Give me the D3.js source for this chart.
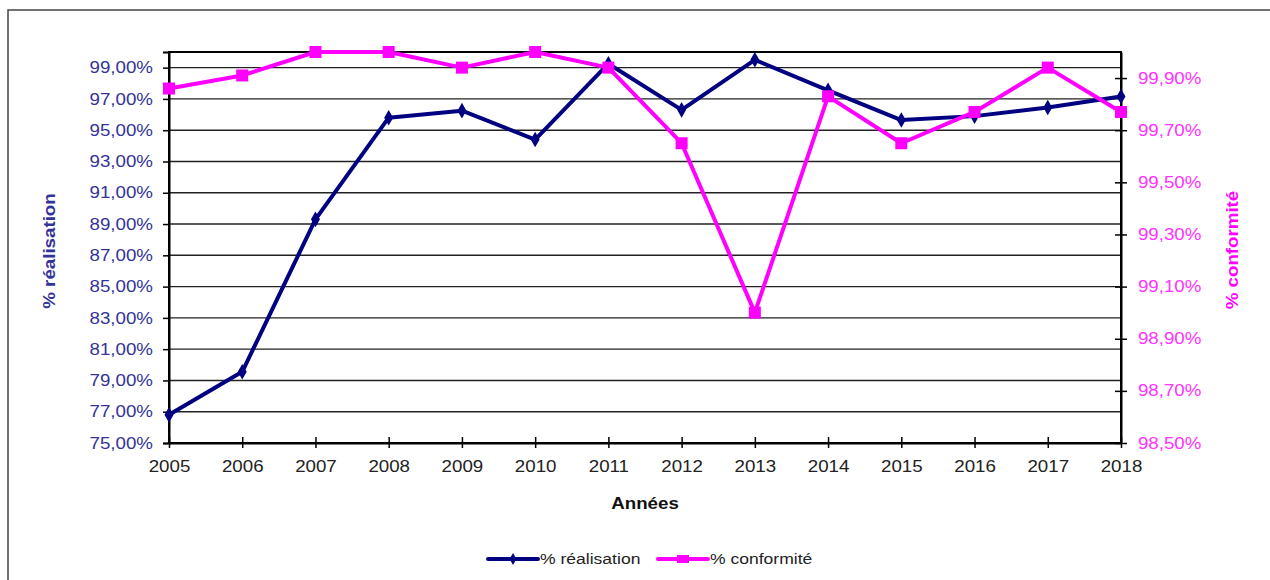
<!DOCTYPE html>
<html>
<head>
<meta charset="utf-8">
<script src="https://cdn.jsdelivr.net/npm/d3@7"></script>
<style>
  body { margin: 0; background: #fff; }
  svg { display: block; font-family: "Liberation Sans", Arial, sans-serif; }
</style>
</head>
<body>
<svg id="chart" width="1270" height="580"></svg>
<script>
var years = [2005, 2006, 2007, 2008, 2009, 2010, 2011, 2012, 2013, 2014, 2015, 2016, 2017, 2018];
var realisation = [76.8, 79.55, 89.3, 95.8, 96.25, 94.4, 99.25, 96.3, 99.5, 97.55, 95.65, 95.9, 96.45, 97.15];
var conformite = [99.86, 99.91, 100, 100, 99.94, 100, 99.94, 99.65, 99.0, 99.83, 99.65, 99.77, 99.94, 99.77];
var leftTicks = [75, 77, 79, 81, 83, 85, 87, 89, 91, 93, 95, 97, 99];
var rightTicks = [98.5, 98.7, 98.9, 99.1, 99.3, 99.5, 99.7, 99.9];
var seriesNames = ["% réalisation", "% conformité"];

var svg = d3.select("#chart");
var margin = { top: 52, right: 149, bottom: 137, left: 169 };
var width = 1270 - margin.left - margin.right,
    height = 580 - margin.top - margin.bottom;
var stretch = "scale(1.17,1)";
var blue = "#000080", pink = "#ff00ff";

// outer frame
svg.append("rect")
  .attr("x", 8).attr("y", 10)
  .attr("width", 1300).attr("height", 600)
  .attr("fill", "none").attr("stroke", "#444").attr("stroke-width", 1.5);

var g = svg.append("g")
  .attr("transform", "translate(" + margin.left + "," + margin.top + ")");

var x = d3.scaleLinear().domain([2005, 2018]).range([0, width]);
var yL = d3.scaleLinear().domain([75, 100]).range([height, 0]);
var yR = d3.scaleLinear().domain([98.5, 100]).range([height, 0]);

var fmt = function(v) { return v.toFixed(2).replace(".", ",") + "%"; };

// grid
g.append("g")
  .selectAll("line")
  .data(leftTicks.slice(1))
  .join("line")
  .attr("x1", 0).attr("x2", width)
  .attr("y1", function(d) { return yL(d); })
  .attr("y2", function(d) { return yL(d); })
  .attr("stroke", "#222").attr("stroke-width", 1.4);

g.append("rect")
  .attr("width", width).attr("height", height)
  .attr("fill", "none").attr("stroke", "#000").attr("stroke-width", 2);

// left axis
var ax = g.append("g")
  .call(d3.axisLeft(yL).tickValues(leftTicks).tickFormat(fmt).tickSize(6).tickPadding(0));
ax.select(".domain").attr("stroke", "#000").attr("stroke-width", 2);
ax.selectAll(".tick line").attr("stroke", "#000").attr("stroke-width", 1.5);
ax.selectAll(".tick text")
  .attr("x", -13.7)
  .attr("transform", stretch)
  .attr("fill", "#333399")
  .style("font-size", "16px");

// right axis
var ar = g.append("g")
  .attr("transform", "translate(" + width + ",0)")
  .call(d3.axisRight(yR).tickValues(rightTicks).tickFormat(fmt).tickSizeInner(6).tickSizeOuter(0));
ar.select(".domain").attr("stroke", "#000").attr("stroke-width", 2);
ar.selectAll(".tick line").attr("x1", -6).attr("stroke", "#000").attr("stroke-width", 1.5);
ar.selectAll(".tick text")
  .attr("x", 14.5)
  .attr("transform", stretch)
  .attr("fill", "#ff33ff")
  .style("font-size", "16px");

// bottom axis
var ab = g.append("g")
  .attr("transform", "translate(0," + height + ")")
  .call(d3.axisBottom(x).tickValues(years).tickFormat(d3.format("d")).tickSizeInner(5).tickSizeOuter(0));
ab.select(".domain").attr("stroke", "#000").attr("stroke-width", 2);
ab.selectAll(".tick line").attr("y1", -6).attr("stroke", "#000").attr("stroke-width", 1.5);
ab.selectAll(".tick text")
  .attr("y", 0).attr("dy", "29px")
  .attr("transform", stretch)
  .attr("fill", "#222")
  .style("font-size", "16px");

// titles
g.append("text")
  .attr("transform", "translate(" + (width / 2) + "," + (height + 66) + ") " + stretch)
  .attr("text-anchor", "middle")
  .attr("font-weight", "bold").attr("font-size", 16).attr("fill", "#111")
  .text("Années");

svg.append("text")
  .attr("transform", "translate(55,251) scale(1,1.17) rotate(-90)")
  .attr("text-anchor", "middle")
  .attr("font-weight", "bold").attr("font-size", 16).attr("fill", "#333399")
  .text(seriesNames[0]);

svg.append("text")
  .attr("transform", "translate(1238,250) scale(1,1.17) rotate(-90)")
  .attr("text-anchor", "middle")
  .attr("font-weight", "bold").attr("font-size", 16).attr("fill", pink)
  .text(seriesNames[1]);

// lines
var lineL = d3.line()
  .x(function(d, i) { return x(years[i]); })
  .y(function(d) { return yL(d); });
var lineR = d3.line()
  .x(function(d, i) { return x(years[i]); })
  .y(function(d) { return yR(d); });

g.append("path")
  .datum(realisation)
  .attr("fill", "none").attr("stroke", blue).attr("stroke-width", 4)
  .attr("stroke-linejoin", "round")
  .attr("d", lineL);

g.append("g")
  .selectAll("path")
  .data(realisation)
  .join("path")
  .attr("d", d3.symbol(d3.symbolDiamond, 70))
  .attr("transform", function(d, i) { return "translate(" + x(years[i]) + "," + yL(d) + ")"; })
  .attr("fill", blue);

g.append("path")
  .datum(conformite)
  .attr("fill", "none").attr("stroke", pink).attr("stroke-width", 4)
  .attr("stroke-linejoin", "round")
  .attr("d", lineR);

g.append("g")
  .selectAll("rect")
  .data(conformite)
  .join("rect")
  .attr("x", function(d, i) { return x(years[i]) - 6; })
  .attr("y", function(d) { return yR(d) - 6; })
  .attr("width", 12).attr("height", 12)
  .attr("fill", pink);

// legend
var legend = svg.append("g").attr("transform", "translate(0,559)");
var items = [
  { name: seriesNames[0], color: blue, x: 488, tx: 540 },
  { name: seriesNames[1], color: pink, x: 658, tx: 710 }
];
items.forEach(function(it, k) {
  legend.append("line")
    .attr("x1", it.x).attr("x2", it.x + 50)
    .attr("stroke", it.color).attr("stroke-width", 4).attr("stroke-linecap", "round");
  if (k === 0) {
    legend.append("path").attr("d", d3.symbol(d3.symbolDiamond, 40))
      .attr("transform", "translate(" + (it.x + 25) + ",0)").attr("fill", it.color);
  } else {
    legend.append("rect").attr("x", it.x + 19).attr("y", -4).attr("width", 12).attr("height", 8)
      .attr("fill", it.color);
  }
  legend.append("text")
    .attr("transform", "translate(" + it.tx + ",0) " + stretch)
    .attr("dy", "0.35em")
    .attr("font-size", 15).attr("fill", "#222")
    .text(it.name);
});
</script>
</body>
</html>
